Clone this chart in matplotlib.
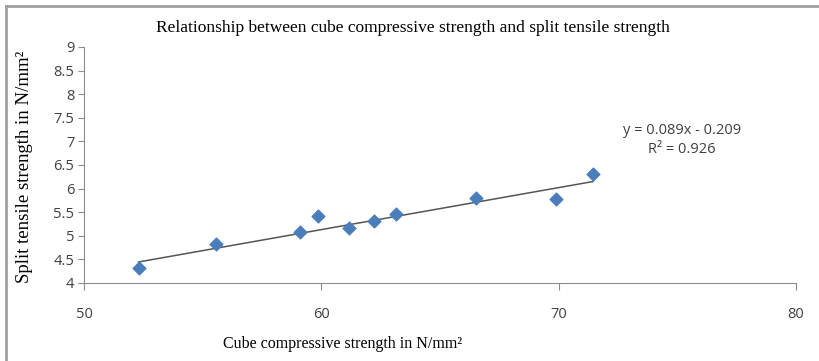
import matplotlib.pyplot as plt
from matplotlib.lines import Line2D

# values
cube_strength = [52.3, 55.55, 59.1, 59.85, 61.15, 62.2, 63.15, 66.5, 69.9, 71.45]
split_strength = [4.32, 4.82, 5.07, 5.42, 5.17, 5.32, 5.47, 5.81, 5.77, 6.30]
slope, intercept = 0.089, -0.209
r_squared = 0.926
x_ticks = [50, 60, 70, 80]
y_ticks = [4, 4.5, 5, 5.5, 6, 6.5, 7, 7.5, 8, 8.5, 9]

serif = 'Liberation Serif'
sans = 'Open Sans'
grey = '#8c8c8c'

fig = plt.figure(figsize=(8.2, 3.61), dpi=100)
ax = fig.add_axes([84 / 820, 1 - 283 / 361, 712 / 820, 236 / 361])

ax.scatter(cube_strength, split_strength, marker='D', s=42, color='#4a7ebb',
           edgecolors='#4a7ebb', zorder=3)

x0, x1 = min(cube_strength), max(cube_strength)
ax.plot([x0, x1], [slope * x0 + intercept, slope * x1 + intercept],
        color='#555555', lw=1.1, zorder=2)

ax.set_xlim(50, 80)
ax.set_ylim(4, 9)
ax.set_xticks(x_ticks)
ax.set_yticks(y_ticks)
ax.set_xticklabels([str(v) for v in x_ticks], fontfamily=sans, fontsize=10.5, color='#404040')
ax.set_yticklabels(['%g' % v for v in y_ticks], fontfamily=sans, fontsize=10.5, color='#404040')
ax.tick_params(axis='x', direction='out', length=5, color=grey, pad=12)
ax.tick_params(axis='y', direction='out', length=4, color=grey, pad=3)

for s in ['top', 'right']:
    ax.spines[s].set_visible(False)
for s in ['left', 'bottom']:
    ax.spines[s].set_color(grey)
    ax.spines[s].set_linewidth(0.8)

fig.text(413 / 820, 1 - 28 / 361,
         'Relationship between cube compressive strength and split tensile strength',
         ha='center', va='center', fontfamily=serif, fontsize=12.5)
fig.text(343 / 820, 1 - 344 / 361, 'Cube compressive strength in N/mm²',
         ha='center', va='center', fontfamily=serif, fontsize=11.5)
fig.text(25 / 820, 1 - 167 / 361, 'Split tensile strength in N/mm²',
         ha='center', va='center', rotation=90, fontfamily=serif, fontsize=13.5)

fig.text(682 / 820, 1 - 130 / 361, 'y = %.3fx - %.3f' % (slope, -intercept),
         ha='center', va='center', fontfamily=sans, fontsize=10.5, color='#404040')
fig.text(682 / 820, 1 - 149 / 361, 'R² = %.3f' % r_squared,
         ha='center', va='center', fontfamily=sans, fontsize=10.5, color='#404040')

# chart frame (left and top edges visible)
fig.add_artist(Line2D([6 / 820, 6 / 820], [0, 1 - 6 / 361], transform=fig.transFigure,
                      color='#a0a0a0', lw=2))
fig.add_artist(Line2D([6 / 820, 1], [1 - 6 / 361, 1 - 6 / 361], transform=fig.transFigure,
                      color='#a0a0a0', lw=2))

fig.savefig('out.png', dpi=100)
